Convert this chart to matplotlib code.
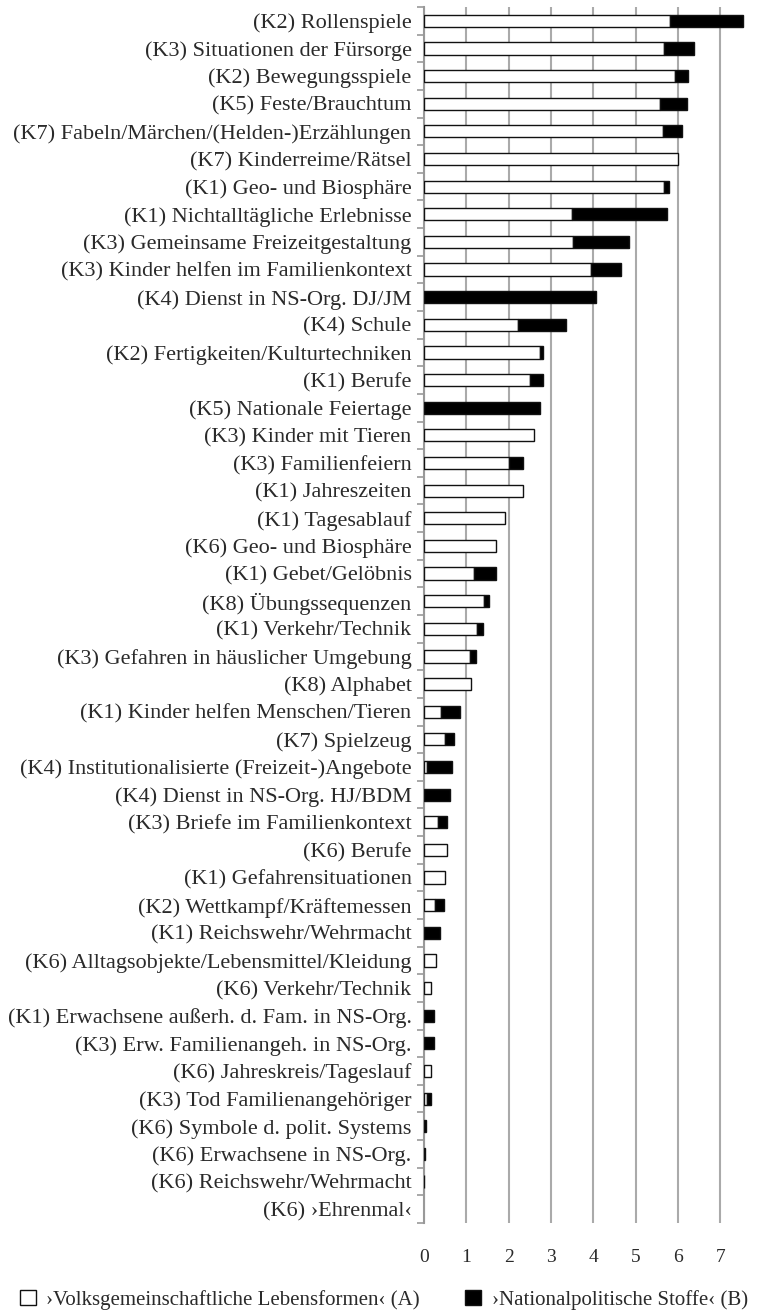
import matplotlib
matplotlib.use("Agg")
import matplotlib.pyplot as plt
from matplotlib.patches import Patch
import numpy as np

categories = [
    "(K2) Rollenspiele",
    "(K3) Situationen der Fürsorge",
    "(K2) Bewegungsspiele",
    "(K5) Feste/Brauchtum",
    "(K7) Fabeln/Märchen/(Helden-)Erzählungen",
    "(K7) Kinderreime/Rätsel",
    "(K1) Geo- und Biosphäre",
    "(K1) Nichtalltägliche Erlebnisse",
    "(K3) Gemeinsame Freizeitgestaltung",
    "(K3) Kinder helfen im Familienkontext",
    "(K4) Dienst in NS-Org. DJ/JM",
    "(K4) Schule",
    "(K2) Fertigkeiten/Kulturtechniken",
    "(K1) Berufe",
    "(K5) Nationale Feiertage",
    "(K3) Kinder mit Tieren",
    "(K3) Familienfeiern",
    "(K1) Jahreszeiten",
    "(K1) Tagesablauf",
    "(K6) Geo- und Biosphäre",
    "(K1) Gebet/Gelöbnis",
    "(K8) Übungssequenzen",
    "(K1) Verkehr/Technik",
    "(K3) Gefahren in häuslicher Umgebung",
    "(K8) Alphabet",
    "(K1) Kinder helfen Menschen/Tieren",
    "(K7) Spielzeug",
    "(K4) Institutionalisierte (Freizeit-)Angebote",
    "(K4) Dienst in NS-Org. HJ/BDM",
    "(K3) Briefe im Familienkontext",
    "(K6) Berufe",
    "(K1) Gefahrensituationen",
    "(K2) Wettkampf/Kräftemessen",
    "(K1) Reichswehr/Wehrmacht",
    "(K6) Alltagsobjekte/Lebensmittel/Kleidung",
    "(K6) Verkehr/Technik",
    "(K1) Erwachsene außerh. d. Fam. in NS-Org.",
    "(K3) Erw. Familienangeh. in NS-Org.",
    "(K6) Jahreskreis/Tageslauf",
    "(K3) Tod Familienangehöriger",
    "(K6) Symbole d. polit. Systems",
    "(K6) Erwachsene in NS-Org.",
    "(K6) Reichswehr/Wehrmacht",
    "(K6) ›Ehrenmal‹",
]

values_a = [5.82, 5.66, 5.93, 5.57, 5.64, 6.01, 5.66, 3.50, 3.52, 3.94,
            0.00, 2.22, 2.74, 2.51, 0.00, 2.61, 2.02, 2.33, 1.91, 1.71,
            1.17, 1.42, 1.25, 1.09, 1.11, 0.40, 0.50, 0.08, 0.00, 0.32,
            0.54, 0.49, 0.26, 0.00, 0.28, 0.17, 0.00, 0.00, 0.17, 0.06,
            0.00, 0.00, 0.00, 0.00]
values_b = [1.72, 0.73, 0.30, 0.65, 0.45, 0.00, 0.13, 2.25, 1.32, 0.71,
            4.06, 1.13, 0.08, 0.29, 2.75, 0.00, 0.33, 0.00, 0.00, 0.00,
            0.52, 0.11, 0.14, 0.13, 0.00, 0.46, 0.20, 0.58, 0.61, 0.22,
            0.00, 0.00, 0.22, 0.37, 0.00, 0.00, 0.24, 0.23, 0.00, 0.10,
            0.04, 0.02, 0.01, 0.00]

xticks = [0, 1, 2, 3, 4, 5, 6, 7]
legend_labels = ["›Volksgemeinschaftliche Lebensformen‹ (A)", "›Nationalpolitische Stoffe‹ (B)"]

plt.rcParams['font.family'] = ['Liberation Serif', 'DejaVu Serif']
W, H = 757, 1313
fig = plt.figure(figsize=(W / 100, H / 100), dpi=100)
left_px, right_px, top_px, bot_px = 424, 752, 7, 1223
ax = fig.add_axes([left_px / W, 1 - bot_px / H, (right_px - left_px) / W, (bot_px - top_px) / H])

n = len(categories)
y = np.arange(n)
a = np.array(values_a)
b = np.array(values_b)
bh = 0.44
edge_a = ['#111111' if v > 0 else 'none' for v in a]
edge_b = ['#111111' if v > 0 else 'none' for v in b]
ax.barh(y, a, height=bh, color='white', edgecolor=edge_a, linewidth=1.0, zorder=3)
ax.barh(y, b, left=a, height=bh, color='black', edgecolor=edge_b, linewidth=1.0, zorder=3)

ax.set_ylim(n - 0.5, -0.5)
ax.set_xlim(0, 7.75)
ax.set_yticks(y)
ax.set_yticklabels(categories, fontsize=16, color='#2a2a2a')
ax.set_yticks(np.arange(-0.5, n, 1.0), minor=True)
ax.tick_params(axis='y', which='major', length=0, pad=9)
ax.tick_params(axis='y', which='minor', length=5, width=1.2, color='#999999')
ax.set_xticks(xticks)
ax.set_xticklabels([str(t) for t in xticks], fontsize=14, color='#2a2a2a')
ax.tick_params(axis='x', length=0, pad=19)
ax.grid(axis='x', color='#aaaaaa', linewidth=1.5, zorder=0)
ax.set_axisbelow(True)
for s in ['top', 'right', 'bottom']:
    ax.spines[s].set_visible(False)
ax.spines['left'].set_color('#999999')
ax.spines['left'].set_linewidth(1.5)

handles = [Patch(facecolor='white', edgecolor='#111111', linewidth=1.0),
           Patch(facecolor='black', edgecolor='#111111', linewidth=1.0)]
fig.legend(handles, legend_labels, loc='center', bbox_to_anchor=(0.507, 1 - 1300 / H),
           ncol=2, frameon=False, fontsize=15, handlelength=0.75, handleheight=0.75,
           handletextpad=0.5, columnspacing=2.2, labelcolor='#2a2a2a',
           borderpad=0, borderaxespad=0)

fig.savefig("out.png", dpi=100)
